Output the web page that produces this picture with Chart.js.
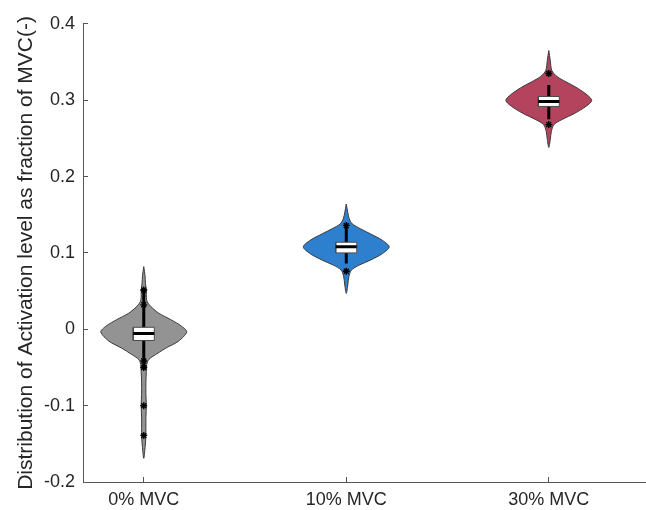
<!DOCTYPE html>
<html>
<head>
<meta charset="utf-8">
<script src="https://cdn.jsdelivr.net/npm/chart.js@4/dist/chart.umd.min.js"></script>
<style>
  html, body { margin: 0; padding: 0; background: #ffffff; }
  #chart { display: block; }
</style>
</head>
<body>
<canvas id="chart" width="646" height="510"></canvas>
<script>
// Groups shown along the horizontal axis
const categories = ['0% MVC', '10% MVC', '30% MVC'];

// Kernel density profiles: activation levels and relative density (max = 1)
const levels0 = [0.082, 0.07, 0.06, 0.05, 0.042, 0.036, 0.030, 0.021, 0.0126, 0.004, -0.0035, -0.0156, -0.0242, -0.033, -0.0394, -0.046, -0.055, -0.07, -0.085, -0.1, -0.115, -0.13, -0.14, -0.155, -0.169];
const density0 = [0, 0.03, 0.04, 0.06, 0.06, 0.08, 0.16, 0.35, 0.63, 0.88, 1, 0.81, 0.53, 0.28, 0.12, 0.07, 0.06, 0.05, 0.05, 0.06, 0.05, 0.05, 0.05, 0.03, 0];
const levels10 = [0.164, 0.153, 0.1446, 0.138, 0.1316, 0.125, 0.1165, 0.1078, 0.099, 0.0905, 0.084, 0.0775, 0.0688, 0.058, 0.047];
const density10 = [0, 0.035, 0.07, 0.14, 0.33, 0.56, 0.84, 1, 0.84, 0.56, 0.30, 0.12, 0.06, 0.035, 0];
const levels30 = [0.365, 0.352, 0.339, 0.331, 0.324, 0.316, 0.307, 0.2996, 0.292, 0.283, 0.2744, 0.268, 0.259, 0.2485, 0.238];
const density30 = [0, 0.035, 0.07, 0.19, 0.40, 0.66, 0.89, 1, 0.87, 0.61, 0.30, 0.12, 0.06, 0.035, 0];

// Box-plot statistics per group
const q1 = [-0.0147, 0.100, 0.2918];
const medians = [-0.0056, 0.108, 0.2983];
const q3 = [0.0026, 0.114, 0.3048];
const whiskerLow = [-0.052, 0.086, 0.275];
const whiskerHigh = [0.0515, 0.134, 0.320];

// Individual extreme observations
const points0 = [0.0515, 0.032, -0.0416, -0.050, -0.100, -0.139];
const points10 = [0.136, 0.076];
const points30 = [0.335, 0.268];

// Styling
const fillColors = ['#939393', '#2f7fcf', '#b4435d'];
const outlineColor = '#3a3a3a';
const violinHalfWidth = 0.212;   // category units at density 1
const boxHalfWidth = 0.052;
const textColor = '#262626';
const fontFamily = '"Liberation Sans", Arial, Helvetica, sans-serif';

const groups = [
  { levels: levels0, density: density0, points: points0 },
  { levels: levels10, density: density10, points: points10 },
  { levels: levels30, density: density30, points: points30 }
];

const datasets = [];
groups.forEach((g, i) => {
  const c = i + 1;
  // violin outline: right side top->bottom, then left side bottom->top
  const right = g.levels.map((y, k) => ({ x: c + violinHalfWidth * g.density[k], y }));
  const left = g.levels.map((y, k) => ({ x: c - violinHalfWidth * g.density[k], y })).reverse().slice(1);
  datasets.push({
    data: right.concat(left),
    showLine: true,
    fill: 'shape',
    backgroundColor: fillColors[i],
    borderColor: outlineColor,
    borderWidth: 1,
    pointRadius: 0,
    tension: 0.3,
    order: 5
  });
  // whisker
  datasets.push({
    data: [{ x: c, y: whiskerLow[i] }, { x: c, y: whiskerHigh[i] }],
    showLine: true,
    borderColor: '#000000',
    borderWidth: 3,
    pointRadius: 0,
    fill: false,
    order: 4
  });
  // extreme observations
  datasets.push({
    data: g.points.map(y => ({ x: c, y })),
    showLine: false,
    pointStyle: 'star',
    pointRadius: 3.5,
    borderColor: '#000000',
    borderWidth: 1.4,
    backgroundColor: '#000000',
    order: 3
  });
  // interquartile box
  datasets.push({
    data: [
      { x: c - boxHalfWidth, y: q1[i] },
      { x: c + boxHalfWidth, y: q1[i] },
      { x: c + boxHalfWidth, y: q3[i] },
      { x: c - boxHalfWidth, y: q3[i] },
      { x: c - boxHalfWidth, y: q1[i] }
    ],
    showLine: true,
    fill: 'shape',
    backgroundColor: '#ffffff',
    borderColor: '#4a4a4a',
    borderWidth: 1,
    pointRadius: 0,
    tension: 0,
    order: 2
  });
  // median
  datasets.push({
    data: [{ x: c - boxHalfWidth, y: medians[i] }, { x: c + boxHalfWidth, y: medians[i] }],
    showLine: true,
    borderColor: '#000000',
    borderWidth: 3,
    pointRadius: 0,
    fill: false,
    order: 1
  });
});

new Chart(document.getElementById('chart'), {
  type: 'scatter',
  data: { datasets },
  options: {
    responsive: false,
    animation: false,
    devicePixelRatio: 1,
    layout: { autoPadding: false, padding: { top: 20, right: 0, bottom: 0, left: 0 } },
    plugins: { legend: { display: false }, tooltip: { enabled: false } },
    scales: {
      x: {
        type: 'linear',
        min: 0.7,
        max: 3.48,
        afterBuildTicks: (scale) => { scale.ticks = categories.map((_, i) => ({ value: i + 1 })); },
        afterFit: (scale) => { scale.height = 28; },
        ticks: {
          autoSkip: false,
          maxRotation: 0,
          padding: 12,
          color: textColor,
          font: { family: fontFamily, size: 18 },
          callback: (v) => categories[Math.round(v) - 1]
        },
        grid: { drawOnChartArea: false, drawTicks: true, tickLength: -5, color: '#555555' },
        border: { display: true, color: '#555555', width: 1 }
      },
      y: {
        type: 'linear',
        min: -0.2,
        max: 0.4,
        afterFit: (scale) => { scale.width = 83; },
        ticks: {
          stepSize: 0.1,
          padding: 13,
          color: textColor,
          font: { family: fontFamily, size: 18 },
          callback: (v) => String(Number(v.toFixed(1)))
        },
        grid: { drawOnChartArea: false, drawTicks: true, tickLength: -5, color: '#555555' },
        border: { display: true, color: '#555555', width: 1 },
        title: {
          display: true,
          text: 'Distribution of Activation level as fraction of MVC(-)',
          color: textColor,
          font: { family: fontFamily, size: 21 },
          padding: { top: 14, bottom: 0 }
        }
      }
    }
  }
});
</script>
</body>
</html>
